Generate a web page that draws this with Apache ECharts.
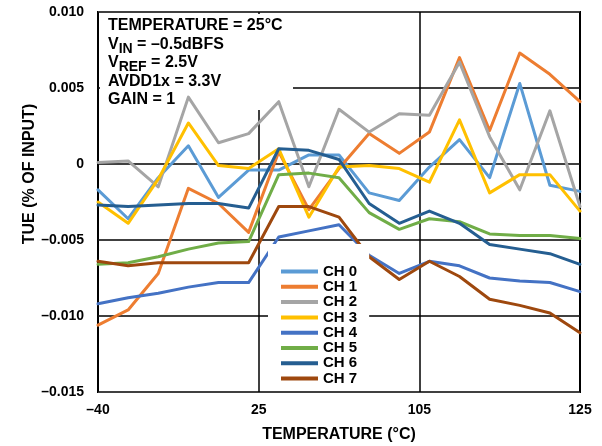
<!DOCTYPE html>
<html>
<head>
<meta charset="utf-8">
<script src="https://cdn.jsdelivr.net/npm/echarts@6/dist/echarts.min.js"></script>
<style>
html,body{margin:0;padding:0;background:#fff;}
#chart{width:602px;height:446px;}
</style>
</head>
<body>
<div id="chart"></div>
<script>
// 17 evenly spaced measurement points across the temperature sweep
const samplePoints = ['P1','P2','P3','P4','P5','P6','P7','P8','P9','P10','P11','P12','P13','P14','P15','P16','P17'];
const xTickLabels = ['–40', '25', '105', '125'];
const channelNames = ['CH 0','CH 1','CH 2','CH 3','CH 4','CH 5','CH 6','CH 7'];
const channelColors = ['#5B9BD5','#ED7D31','#A5A5A5','#FFC000','#4472C4','#70AD47','#255E91','#9E480E'];

const ch0 = [-0.0017, -0.0036, -0.0009, 0.0012, -0.0022, -0.0004, -0.0004, 0.0006, 0.0006, -0.0019, -0.0024, -0.0002, 0.0016, -0.0009, 0.0053, -0.0014, -0.0018];
const ch1 = [-0.0106, -0.0096, -0.0072, -0.0016, -0.0026, -0.0045, 0.0008, -0.0030, -0.0003, 0.0020, 0.0007, 0.0021, 0.0070, 0.0022, 0.0073, 0.0059, 0.0041];
const ch2 = [0.0001, 0.0002, -0.0015, 0.0044, 0.0014, 0.0020, 0.0041, -0.0015, 0.0036, 0.0021, 0.0033, 0.0032, 0.0067, 0.0018, -0.0017, 0.0035, -0.0028];
const ch3 = [-0.0025, -0.0039, -0.0010, 0.0027, -0.0001, -0.0003, 0.0010, -0.0035, -0.0002, -0.0001, -0.0003, -0.0012, 0.0029, -0.0019, -0.0007, -0.0007, -0.0031];
const ch4 = [-0.0092, -0.0088, -0.0085, -0.0081, -0.0078, -0.0078, -0.0048, -0.0044, -0.0040, -0.0060, -0.0072, -0.0064, -0.0067, -0.0075, -0.0077, -0.0078, -0.0084];
const ch5 = [-0.0066, -0.0065, -0.0061, -0.0056, -0.0052, -0.0051, -0.0007, -0.0006, -0.0009, -0.0032, -0.0043, -0.0036, -0.0038, -0.0046, -0.0047, -0.0047, -0.0049];
const ch6 = [-0.0027, -0.0028, -0.0027, -0.0026, -0.0026, -0.0029, 0.0010, 0.0009, 0.0003, -0.0026, -0.0039, -0.0031, -0.0039, -0.0053, -0.0056, -0.0059, -0.0066];
const ch7 = [-0.0064, -0.0067, -0.0065, -0.0065, -0.0065, -0.0065, -0.0028, -0.0028, -0.0035, -0.0061, -0.0076, -0.0064, -0.0074, -0.0089, -0.0093, -0.0098, -0.0111];
const channelData = [ch0, ch1, ch2, ch3, ch4, ch5, ch6, ch7];

const FONT = '"Liberation Sans", Arial, sans-serif';
const chart = echarts.init(document.getElementById('chart'), null, {renderer: 'canvas'});

const series = channelNames.map((name, i) => ({
  name: name,
  type: 'line',
  xAxisIndex: 0,
  yAxisIndex: 0,
  data: channelData[i],
  symbol: 'none',
  smooth: false,
  color: channelColors[i],
  lineStyle: {width: 3, color: channelColors[i], cap: 'round', join: 'round'},
  emphasis: {disabled: true},
  silent: true,
  animation: false
}));

const rich = {
  b: {fontSize: 16, fontWeight: 'bold', fontFamily: FONT, color: '#000', lineHeight: 18},
  s: {fontSize: 14, fontWeight: 'bold', fontFamily: FONT, color: '#000', lineHeight: 18, padding: [8, 0, 0, 0]}
};
function boxLine(text, y) {
  return {
    type: 'text', x: 108, y: y, z: 100,
    style: {text: text, rich: rich, fill: '#000', align: 'left', verticalAlign: 'middle'}
  };
}

chart.setOption({
  animation: false,
  backgroundColor: '#fff',
  grid: {left: 98, right: 22, top: 12, bottom: 54, show: true, borderColor: '#000', borderWidth: 2, backgroundColor: 'transparent'},
  xAxis: [
    {type: 'category', data: samplePoints, boundaryGap: false, show: false},
    {type: 'value', min: 0, max: 3, interval: 1, position: 'bottom',
     axisLine: {show: false}, axisTick: {show: false},
     splitLine: {show: true, lineStyle: {color: '#000', width: 1.5}},
     axisLabel: {margin: 11, fontSize: 14, fontWeight: 'bold', fontFamily: FONT, color: '#000',
       formatter: v => xTickLabels[Math.round(v)]}}
  ],
  yAxis: {
    type: 'value', min: -0.015, max: 0.010, interval: 0.005,
    axisLine: {show: false}, axisTick: {show: false},
    splitLine: {show: true, lineStyle: {color: '#404040', width: 2}},
    axisLabel: {margin: 14, fontSize: 14, fontWeight: 'bold', fontFamily: FONT, color: '#000',
      formatter: v => Math.abs(v) < 1e-9 ? '0' : (v < 0 ? '–' : '') + Math.abs(v).toFixed(3)}
  },
  legend: {
    data: channelNames, orient: 'vertical', left: 268, top: 244,
    padding: [20, 12, 5, 13], backgroundColor: '#fff',
    icon: 'rect', itemWidth: 37, itemHeight: 4, itemGap: 0.3,
    selectedMode: false,
    textStyle: {fontSize: 15, fontWeight: 'bold', fontFamily: FONT, color: '#000', lineHeight: 14}
  },
  graphic: [
    {type: 'rect', shape: {x: 100, y: 14, width: 193, height: 96}, style: {fill: '#fff'}, z: 1, silent: true},
    boxLine('{b|TEMPERATURE = 25°C}', 26),
    boxLine('{b|V}{s|IN}{b| = –0.5dBFS}', 45),
    boxLine('{b|V}{s|REF}{b| = 2.5V}', 63),
    boxLine('{b|AVDD1x = 3.3V}', 82),
    boxLine('{b|GAIN = 1}', 100),
    {type: 'text', x: 30, y: 174, rotation: Math.PI / 2, z: 100,
     style: {text: 'TUE (% OF INPUT)', fontSize: 16, fontWeight: 'bold', fontFamily: FONT, fill: '#000', align: 'center', verticalAlign: 'middle'}},
    {type: 'text', x: 339, y: 435, z: 100,
     style: {text: 'TEMPERATURE (°C)', fontSize: 16, fontWeight: 'bold', fontFamily: FONT, fill: '#000', align: 'center', verticalAlign: 'middle'}}
  ],
  series: series
});
</script>
</body>
</html>
